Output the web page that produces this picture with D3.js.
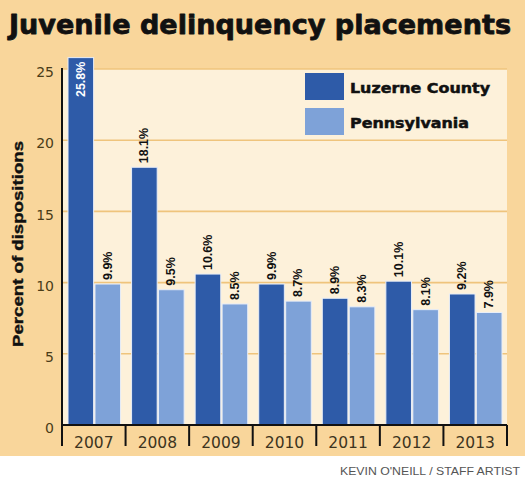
<!DOCTYPE html>
<html><head><meta charset="utf-8">
<script src="https://cdn.jsdelivr.net/npm/d3@7"></script>
<style>html,body{margin:0;padding:0;background:#fff;}svg{display:block;}</style>
</head><body>
<script>
const years = ["2007","2008","2009","2010","2011","2012","2013"];
const luzerne = [25.8, 18.1, 10.6, 9.9, 8.9, 10.1, 9.2];
const pennsylvania = [9.9, 9.5, 8.5, 8.7, 8.3, 8.1, 7.9];
const seriesNames = ["Luzerne County", "Pennsylvania"];
const yTicks = [0, 5, 10, 15, 20, 25];

(function(){
const W = 525, H = 480;
const colors = {"Luzerne County": "#2e5ba8", "Pennsylvania": "#7ea2d8"};
const svg = d3.select("body").append("svg").attr("width", W).attr("height", H);

// background
svg.append("rect").attr("x",0).attr("y",0).attr("width",W).attr("height",456).attr("fill","#f9d69b");

const pl = 62, pr = 507, pt = 69, pb = 425;
const x = d3.scaleBand().domain(years).range([pl, pr]).padding(0);
const xs = d3.scaleBand().domain(seriesNames).range([6, x.bandwidth() - 5]).paddingInner(0.05);
const y = d3.scaleLinear().domain([0, 25]).range([pb, pt]);

// plot area
svg.append("rect").attr("x", pl).attr("y", pt).attr("width", pr-pl).attr("height", pb-pt).attr("fill","#fdf1da");

// gridlines
svg.append("g").selectAll("line").data(yTicks.filter(d=>d>0)).join("line")
  .attr("x1", pl).attr("x2", pr).attr("y1", d=>y(d)).attr("y2", d=>y(d))
  .attr("stroke","#efc47c").attr("stroke-width",1.6);

// title
svg.append("text").attr("x", 9).attr("y", 34).text("Juvenile delinquency placements")
  .attr("font-family","DejaVu Sans").attr("font-weight","900").attr("font-size",27)
  .attr("stroke","#111").attr("stroke-width",0.8).attr("stroke-linejoin","round")
  .attr("textLength", 502).attr("lengthAdjust","spacingAndGlyphs").attr("fill","#111");

// bars
const data = [];
years.forEach((yr,i)=>{
  data.push({year:yr, s:"Luzerne County", v:luzerne[i]});
  data.push({year:yr, s:"Pennsylvania", v:pennsylvania[i]});
});
const barG = svg.append("g");
barG.selectAll("rect").data(data).join("rect")
  .attr("x", d=>x(d.year)+xs(d.s)).attr("width", xs.bandwidth())
  .attr("y", d=>y(d.v)).attr("height", d=>pb - y(d.v))
  .attr("fill", d=>colors[d.s]).attr("stroke","#e9eef7").attr("stroke-width",1);

// value labels
barG.selectAll("text").data(data).join("text")
  .attr("transform", d=>{
    const cx = x(d.year)+xs(d.s)+xs.bandwidth()/2;
    const inside = d.v > 25;
    const yy = inside ? y(d.v)+4 : y(d.v)-4;
    return `translate(${cx},${yy}) rotate(-90)`;
  })
  .attr("text-anchor", d=> d.v > 25 ? "end" : "start")
  .attr("dominant-baseline","central")
  .attr("font-family","Liberation Sans").attr("font-weight","bold").attr("font-size",12.5)
  .attr("fill", d=> d.v > 25 ? "#fff" : "#111")
  .text(d=>d.v.toFixed(1)+"%");

// y axis
const yAxis = svg.append("g").attr("transform",`translate(${pl},0)`)
  .call(d3.axisLeft(y).tickValues(yTicks).tickSize(0).tickPadding(8));
yAxis.select(".domain").remove();
yAxis.selectAll("text").attr("font-family","DejaVu Sans").attr("font-size",14).attr("fill","#4a3c18").attr("dy","0.55em");
svg.append("line").attr("x1",pl).attr("x2",pl).attr("y1",pt-1).attr("y2",446).attr("stroke","#111").attr("stroke-width",2);

// x axis
svg.append("line").attr("x1",pl).attr("x2",pr).attr("y1",pb).attr("y2",pb).attr("stroke","#111").attr("stroke-width",2);
const xAxis = svg.append("g").attr("transform",`translate(0,${pb})`)
  .call(d3.axisBottom(x).tickSize(0).tickPadding(10));
xAxis.select(".domain").remove();
xAxis.selectAll("text").attr("font-family","DejaVu Sans").attr("font-size",15.5).attr("fill","#3d3420").attr("dy","0.85em");
svg.append("g").selectAll("line").data(years.slice(1).map(d=>x(d)).concat([pr])).join("line")
  .attr("x1",d=>d).attr("x2",d=>d).attr("y1",pb).attr("y2",446).attr("stroke","#111").attr("stroke-width",2);

// y label
svg.append("text").attr("transform","translate(23,244) rotate(-90)").attr("text-anchor","middle")
  .attr("font-family","Liberation Sans").attr("font-weight","bold").attr("font-size",15)
  .attr("stroke","#111").attr("stroke-width",0.4)
  .attr("textLength",206).attr("lengthAdjust","spacingAndGlyphs")
  .attr("fill","#111").text("Percent of dispositions");

// legend
const lg = svg.append("g");
seriesNames.forEach((s,i)=>{
  lg.append("rect").attr("x",305).attr("y",73+i*35).attr("width",39).attr("height",27).attr("fill",colors[s]);
  lg.append("text").attr("x",350).attr("y",93+i*34.5).text(s)
    .attr("font-family","DejaVu Sans").attr("font-weight","bold").attr("font-size",14)
    .attr("stroke","#111").attr("stroke-width",0.5)
    .attr("textLength", i===0?140:119).attr("lengthAdjust","spacingAndGlyphs").attr("fill","#111");
});

// credit
svg.append("text").attr("x",520).attr("y",475).attr("text-anchor","end")
  .attr("font-family","Liberation Sans").attr("font-size",11).attr("fill","#555")
  .attr("textLength",180).attr("lengthAdjust","spacingAndGlyphs")
  .text("KEVIN O'NEILL / STAFF ARTIST");
})();
</script>
</body></html>
